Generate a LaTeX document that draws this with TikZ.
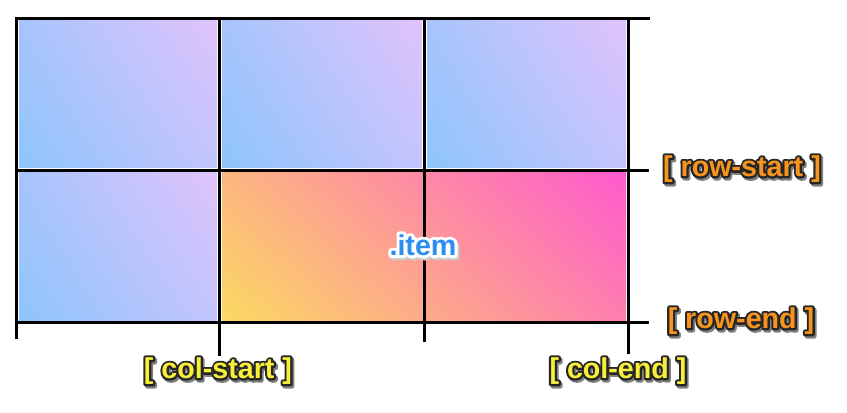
\documentclass[tikz,border=0pt]{standalone}
\usepackage{fontspec}
\setmainfont{Liberation Sans}
\usetikzlibrary{shadings}
\definecolor{cellblue}{HTML}{8EC5FC}
\definecolor{celllilac}{HTML}{E0C3FC}
\definecolor{itemyellow}{HTML}{FBDA61}
\definecolor{itempink}{HTML}{FF5ACD}
\definecolor{labelorange}{HTML}{F7941D}
\definecolor{labelyellow}{HTML}{F8EF3A}
\definecolor{itemblue}{HTML}{2A8DF2}
% #1 outline, #2 fill, #3 stroke width, #4 shadow, #5 text
\newcommand\outlinetext[5]{%
  \rlap{\hspace{1.3pt}\raisebox{-1.6pt}{\special{pdf:code q 2 Tr #3 w 1 j}\textcolor{#4}{#5}\special{pdf:code Q}}}%
  \rlap{\special{pdf:code q 2 Tr #3 w 1 j}\textcolor{#1}{#5}\special{pdf:code Q}}%
  \textcolor{#2}{#5}}
\tikzset{
  gridline/.style={line width=2.25pt},
  linelabel/.style={font=\bfseries\fontsize{21.5}{21.5}\selectfont, inner sep=0pt},
  cellshade/.style={lower left=cellblue, upper right=celllilac,
    upper left=cellblue!70!celllilac, lower right=cellblue!35!celllilac},
  itemshade/.style={lower left=itemyellow, upper right=itempink,
    upper left=itemyellow!72!itempink, lower right=itemyellow!28!itempink},
}
\begin{document}
\begin{tikzpicture}[x=0.75pt,y=-0.75pt]
\useasboundingbox (0,0) rectangle (847,413);
\foreach \xa/\xb/\ya/\yb in {16.5/219.5/18.5/170.5, 219.5/424.5/18.5/170.5,
  424.5/628.5/18.5/170.5, 16.5/219.5/170.5/323}
  \shade[cellshade] ({\xa+2.5},{\ya+2.5}) rectangle ({\xb-2.5},{\yb-2.5});
\shade[itemshade] (222,173) rectangle (626,320.5);
\draw[gridline] (15,18.5) -- (650,18.5);
\draw[gridline] (15,170.5) -- (649,170.5);
\draw[gridline] (15,323) -- (649,323);
\draw[gridline] (16.5,17.5) -- (16.5,339);
\draw[gridline] (219.5,17.5) -- (219.5,356);
\draw[gridline] (424.5,17.5) -- (424.5,342);
\draw[gridline] (628.5,17.5) -- (628.5,354);
\node[linelabel] (item) at (423,246) {\outlinetext{white}{itemblue}{4.5}{black!20}{.item}};
\node[linelabel] (rowstart) at (742,170) {\outlinetext{black!85}{labelorange}{3.2}{black!50}{[ row-start ]}};
\node[linelabel] (rowend) at (741,322) {\outlinetext{black!85}{labelorange}{3.2}{black!50}{[ row-end ]}};
\node[linelabel] (colstart) at (218,372) {\outlinetext{black!85}{labelyellow}{3.2}{black!50}{[ col-start ]}};
\node[linelabel] (colend) at (618,372) {\outlinetext{black!85}{labelyellow}{3.2}{black!50}{[ col-end ]}};
\end{tikzpicture}
\end{document}
